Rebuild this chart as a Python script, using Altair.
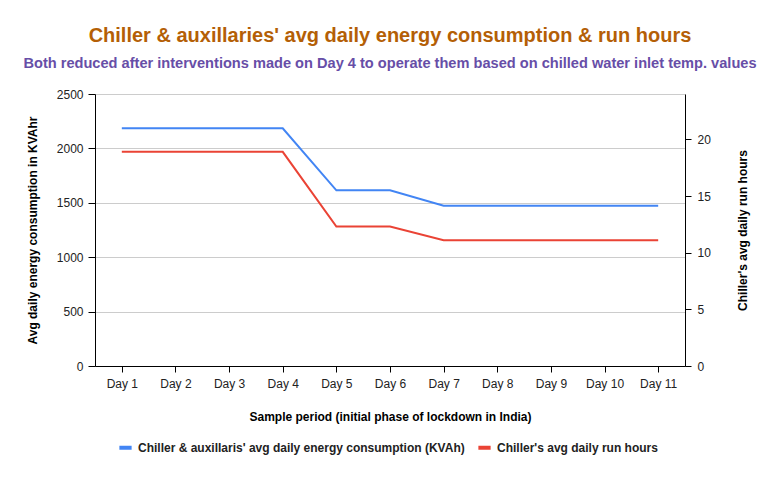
import altair as alt
import pandas as pd

days = ["Day 1", "Day 2", "Day 3", "Day 4", "Day 5", "Day 6", "Day 7", "Day 8", "Day 9", "Day 10", "Day 11"]
energy = [2185, 2185, 2185, 2185, 1615, 1615, 1473, 1473, 1473, 1473, 1473]
run_hours = [18.9, 18.9, 18.9, 18.9, 12.3, 12.3, 11.1, 11.1, 11.1, 11.1, 11.1]

s_energy = "Chiller & auxillaris' avg daily energy consumption (KVAh)"
s_hours = "Chiller's avg daily run hours"

df = pd.DataFrame({
    "day": days * 2,
    "series": [s_energy] * len(days) + [s_hours] * len(days),
    "value": energy + run_hours,
})

FONT = "Liberation Sans"

x = alt.X("day:N", sort=days, scale=alt.Scale(type="point", padding=0.5),
          axis=alt.Axis(title="Sample period (initial phase of lockdown in India)",
                        labelAngle=0, grid=False, tickSize=6, labelPadding=6,
                        titlePadding=22, domainColor="#000", tickColor="#000"))

color = alt.Color("series:N",
                  scale=alt.Scale(domain=[s_energy, s_hours], range=["#4285f4", "#ea4335"]),
                  legend=alt.Legend(title=None, orient="none", legendX=22, legendY=345,
                                    direction="horizontal", symbolType="stroke",
                                    symbolStrokeWidth=4, symbolSize=150, columnPadding=5,
                                    labelFontSize=12, labelFontWeight="bold", labelColor="#222",
                                    labelFont=FONT, labelLimit=500))

left = alt.Chart(df).transform_filter(alt.datum.series == s_energy).mark_line(strokeWidth=2).encode(
    x=x,
    y=alt.Y("value:Q", scale=alt.Scale(domain=[0, 2500], nice=False),
            axis=alt.Axis(title="Avg daily energy consumption in KVAhr", values=[0, 500, 1000, 1500, 2000, 2500],
                          format="d", tickSize=7, labelPadding=5, titlePadding=17, gridColor="#cccccc",
                          domainColor="#000", tickColor="#000")),
    color=color,
)

right = alt.Chart(df).transform_filter(alt.datum.series == s_hours).mark_line(strokeWidth=2).encode(
    x=x,
    y=alt.Y("value:Q", scale=alt.Scale(domain=[0, 24], nice=False),
            axis=alt.Axis(title="Chiller's avg daily run hours", orient="right", values=[0, 5, 10, 15, 20],
                          grid=False, tickSize=6, labelPadding=6, titlePadding=39, titleAngle=-90,
                          domainColor="#000", tickColor="#000")),
    color=color,
)

chart = alt.layer(left, right).resolve_scale(y="independent").properties(
    width=590, height=272,
    autosize=alt.AutoSizeParams(type="none"),
    padding={"left": 95, "top": 94, "right": 89, "bottom": 112},
    title=alt.TitleParams(
        text="Chiller & auxillaries' avg daily energy consumption & run hours",
        subtitle="Both reduced after interventions made on Day 4 to operate them based on chilled water inlet temp. values",
        anchor="middle", font=FONT, fontSize=20, fontWeight="bold", color="#b45f06",
        subtitleFont=FONT, subtitleFontSize=14.6, subtitleFontWeight="bold", subtitleColor="#674ea7",
        subtitlePadding=10, offset=17,
    ),
).configure_view(stroke=None).configure_axis(
    labelFont=FONT, titleFont=FONT, labelFontSize=12, titleFontSize=12,
    labelColor="#222", titleColor="#000", titleFontWeight="bold",
)

chart.save("out.html", embed_options={"renderer": "svg", "actions": False})
